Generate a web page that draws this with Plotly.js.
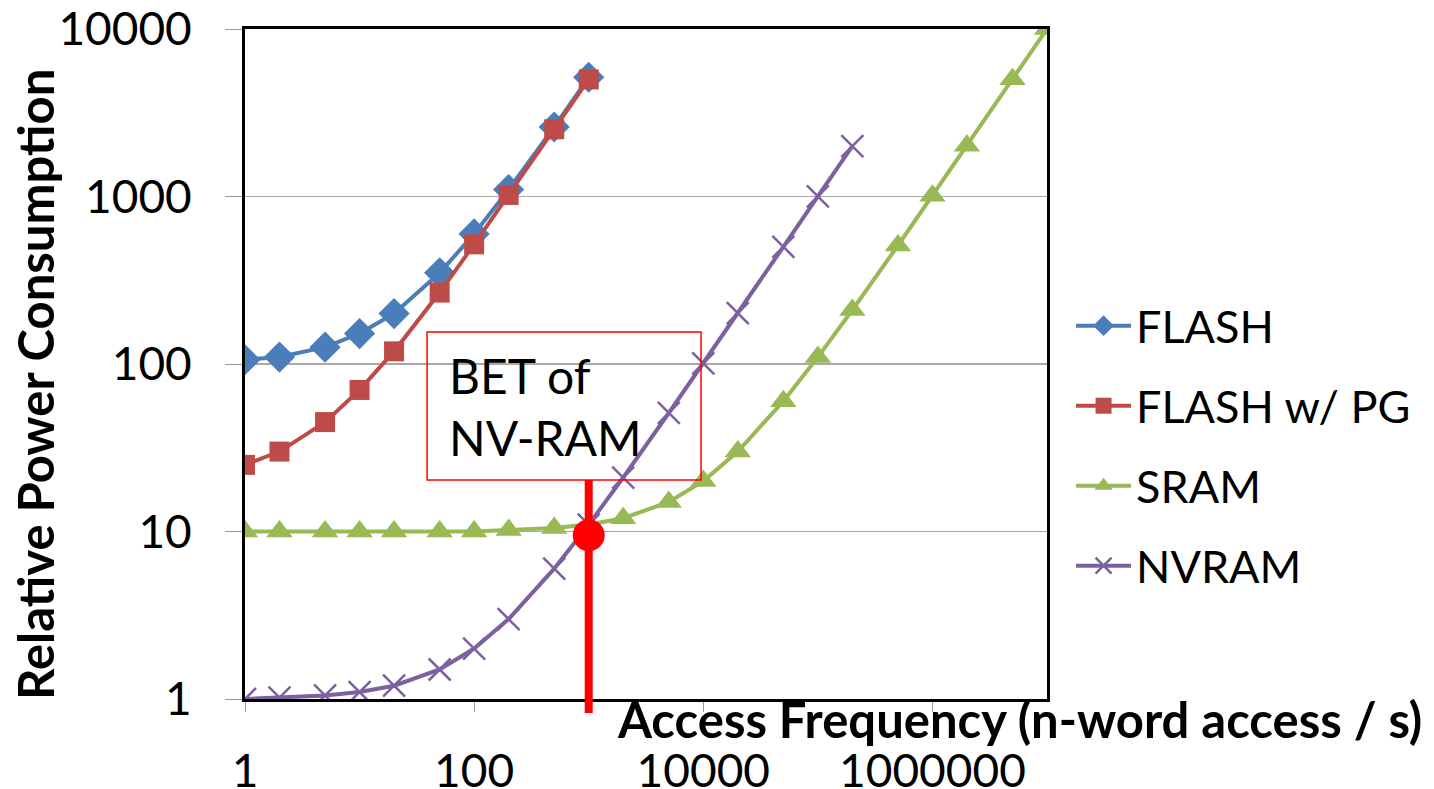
<!DOCTYPE html>
<html>
<head>
<meta charset="utf-8">
<script src="https://cdn.plot.ly/plotly-3.0.1.min.js"></script>
<style>html,body{margin:0;padding:0;background:#fff;}#chart{width:1434px;height:789px;}</style>
</head>
<body>
<div id="chart"></div>
<script>
// Data
const flashX = [1, 2, 5, 10, 20, 50, 100, 200, 500, 1000];
const flashY = [106, 110, 126, 152, 200, 350, 598, 1100, 2600, 5150];
const flashPgX = [1, 2, 5, 10, 20, 50, 100, 200, 500, 1000];
const flashPgY = [25, 30, 45, 70, 119, 267, 518, 1022, 2520, 5000];
const sramX = [1, 2, 5, 10, 20, 50, 100, 200, 500, 1000, 2000, 5000, 10000, 20000, 50000, 100000, 200000, 500000, 1000000, 2000000, 5000000, 10000000];
const sramY = [10, 10, 10, 10, 10, 10, 10, 10.2, 10.5, 11, 12, 15, 20, 30, 60, 110, 210, 510, 1010, 2010, 5010, 10010];
const nvramX = [1, 2, 5, 10, 20, 50, 100, 200, 500, 1000, 2000, 5000, 10000, 20000, 50000, 100000, 200000];
const nvramY = [1, 1.02, 1.05, 1.1, 1.2, 1.5, 2, 3, 6, 11, 21, 51, 101, 201, 501, 1001, 2001];
const betX = [1000];
const betY = [9.5];
const xTickVals = [1, 100, 10000, 1000000];
const xTickText = ['1', '100', '10000', '1000000'];
const yTickVals = [1, 10, 100, 1000, 10000];
const yTickText = ['1', '10', '100', '1000', '10000'];

const FONT = 'Lato, "Open Sans", sans-serif';

const traces = [
  {x: flashX, y: flashY, name: 'FLASH', mode: 'lines+markers', legendgroup: 'a',
   line: {color: '#4A7EBB', width: 4}, marker: {symbol: 'diamond', size: 24, color: '#4A7EBB'}},
  {x: flashPgX, y: flashPgY, name: 'FLASH w/ PG', mode: 'lines+markers', legendgroup: 'b',
   line: {color: '#BE4B48', width: 4}, marker: {symbol: 'square', size: 20, color: '#BE4B48'}},
  {x: sramX, y: sramY, name: 'SRAM', mode: 'lines+markers', legendgroup: 'c',
   line: {color: '#98B954', width: 4}, marker: {symbol: 'triangle-up', size: 23, color: '#98B954'}},
  {x: nvramX, y: nvramY, name: 'NVRAM', mode: 'lines+markers', legendgroup: 'd',
   line: {color: '#7D60A0', width: 4}, marker: {symbol: 'x-thin-open', size: 22, color: '#7D60A0', line: {color: '#7D60A0', width: 2.5}}},
  {x: betX, y: betY, mode: 'markers', showlegend: false, hoverinfo: 'skip',
   marker: {symbol: 'circle', size: 32, color: '#FF0000'}}
];

const layout = {
  width: 1434, height: 789,
  paper_bgcolor: '#ffffff', plot_bgcolor: '#ffffff',
  margin: {l: 245, r: 387, t: 29, b: 90, pad: 0},
  font: {family: FONT, color: '#000000'},
  showlegend: true,
  legend: {x: 1.03, xanchor: 'left', y: 0.6105, yanchor: 'top',
    font: {family: FONT, size: 45, color: '#000'}, itemwidth: 55,
    traceorder: 'grouped', tracegroupgap: 18.5, bgcolor: 'rgba(0,0,0,0)'},
  xaxis: {type: 'log', range: [0, 7], tickvals: xTickVals, ticktext: xTickText,
    showgrid: false, zeroline: false, showline: true, linecolor: '#000', linewidth: 3, mirror: true,
    ticks: 'outside', ticklen: 10, tickwidth: 1, tickcolor: '#9a9a9a', ticklabelstandoff: 20,
    tickfont: {family: FONT, size: 46, color: '#000'}},
  yaxis: {type: 'log', range: [0, 4], tickvals: yTickVals, ticktext: yTickText,
    showgrid: true, gridcolor: '#a8a8a8', gridwidth: 1.2, zeroline: false,
    showline: true, linecolor: '#000', linewidth: 3, mirror: true,
    ticks: 'outside', ticklen: 17, tickwidth: 1, tickcolor: '#9a9a9a', ticklabelstandoff: 24,
    tickfont: {family: FONT, size: 46, color: '#000'}},
  shapes: [
    {type: 'rect', xref: 'paper', yref: 'paper', x0: 0.227, x1: 0.5686, y0: 0.3269, y1: 0.5478,
     line: {color: '#FF0000', width: 1.5}, fillcolor: 'rgba(0,0,0,0)'},
    {type: 'line', xref: 'x', yref: 'paper', x0: 1000, x1: 1000, y0: -0.021, y1: 0.3269,
     line: {color: '#FF0000', width: 8}}
  ],
  annotations: [
    {xref: 'paper', yref: 'paper', x: 0.2519, y: 0.437, xanchor: 'left', yanchor: 'middle',
     text: 'BET of<br>NV-RAM', showarrow: false, align: 'left',
     font: {family: FONT, size: 48, color: '#000'}},
    {xref: 'paper', yref: 'paper', x: 0.966, y: -0.03, xanchor: 'center', yanchor: 'middle',
     text: '<b>Access Frequency (n-word access / s)</b>', showarrow: false,
     font: {family: FONT, size: 49, color: '#000'}},
    {xref: 'paper', yref: 'paper', x: -0.262, y: 0.47, xanchor: 'center', yanchor: 'middle',
     text: '<b>Relative Power Consumption</b>', showarrow: false, textangle: -90,
     font: {family: FONT, size: 49, color: '#000'}}
  ]
};

Plotly.newPlot('chart', traces, layout, {displayModeBar: false, staticPlot: true});
</script>
</body>
</html>
